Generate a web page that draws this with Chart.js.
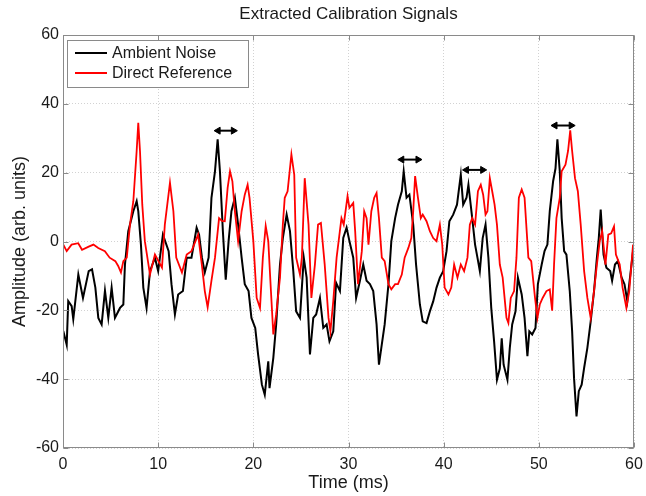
<!DOCTYPE html>
<html><head><meta charset="utf-8">
<script src="https://cdn.jsdelivr.net/npm/chart.js@4/dist/chart.umd.min.js"></script>
<style>html,body{margin:0;padding:0;background:#fff}canvas{display:block}</style>
</head><body>
<canvas id="c" width="646" height="496"></canvas>
<script>
const chartTitle = 'Extracted Calibration Signals';
const xTitle = 'Time (ms)';
const yTitle = 'Amplitude (arb. units)';
const seriesNames = ['Ambient Noise', 'Direct Reference'];
const xTicks = [0, 10, 20, 30, 40, 50, 60];
const yTicks = [-60, -40, -20, 0, 20, 40, 60];

const noiseTime = [0.03,0.39,0.55,0.91,1.08,1.61,2.1,2.7,3.05,3.4,3.71,4.06,4.41,4.76,5.11,5.46,5.99,6.34,6.51,6.86,7.39,7.74,7.91,8.19,8.44,8.78,9.14,9.66,10.0,10.5,11.1,11.4,11.76,12.1,12.6,13.0,13.5,14.04,14.3,14.6,14.9,15.3,15.6,15.97,16.25,16.49,16.8,17.1,17.4,17.7,18.06,18.4,18.77,19.1,19.5,19.8,20.2,20.5,20.9,21.2,21.57,21.7,22.1,22.4,22.8,23.1,23.5,23.85,24.2,24.5,24.9,25.3,25.6,25.95,26.3,26.6,27.0,27.35,27.7,28.0,28.4,28.7,29.1,29.45,29.8,30.1,30.5,30.8,31.2,31.55,31.9,32.25,32.6,32.95,33.2,33.5,33.8,34.2,34.5,34.9,35.2,35.6,35.8,36.1,36.4,36.8,37.1,37.5,37.8,38.2,38.55,38.9,39.25,39.6,39.95,40.3,40.6,41.0,41.4,41.8,42.05,42.4,42.6,43.0,43.3,43.55,43.8,44.1,44.4,44.7,45.0,45.3,45.6,45.9,46.1,46.3,46.7,46.95,47.2,47.55,47.8,48.2,48.5,48.8,49.0,49.3,49.65,49.9,50.3,50.6,50.9,51.15,51.5,51.75,51.95,52.2,52.4,52.66,52.9,53.25,53.5,53.7,53.96,54.2,54.5,54.76,55.1,55.45,55.8,56.1,56.3,56.5,56.8,57.1,57.5,57.7,58.0,58.3,58.7,59.0,59.3,59.5,59.9];
const noiseValues = [-26,-30,-17.3,-18.8,-22.6,-9.6,-16.4,-8.6,-8.1,-13.4,-22.2,-24.1,-14.3,-22.2,-13.4,-22.2,-19.3,-18.3,-6.7,3.0,8.8,11.7,8.8,-0.9,-13.4,-19.3,-8.6,-4.7,-8.6,2.0,-2.8,-12.4,-21.2,-15.4,-14.4,-4.7,-4.7,4.0,2.0,-4.7,-9.0,-4.7,12.7,20.4,29.7,20.4,3.0,-11.1,0.1,8.8,12.7,4.9,-4.7,-12.4,-14.4,-22.2,-25.1,-32.8,-41.6,-44.5,-34.8,-42.6,-33.8,-24.1,-6.7,1.0,7.8,3.0,-8.6,-20.3,-22.2,-4.7,-10.5,-32.8,-22.2,-21.2,-16.4,-25.1,-24.1,-29.0,-26.1,-12.0,-14.4,1.0,4.0,0.1,-4.7,-16.4,-11.4,-6.7,-11.4,-12.4,-14.4,-24.1,-35.8,-29.9,-24.1,-12.4,0.1,6.8,10.7,14.6,20.4,12.7,13.6,4.9,-6.7,-18.3,-23.2,-23.7,-20.3,-17.4,-13.4,-10.5,-8.6,-2.8,5.9,7.8,10.7,19.4,10.7,12.7,16.5,6.8,-0.9,-4.7,-8.6,1.0,4.9,-4.7,-19.3,-29.0,-40.2,-36.9,-28.1,-35.8,-40.2,-30.9,-24.1,-20.3,-10.5,-15.4,-22.2,-33.3,-26.1,-27.0,-25.1,-12.4,-6.7,-2.8,-0.9,8.8,17.5,21.2,29.7,20.4,6.8,-2.8,-3.8,-14.4,-26.1,-39.7,-50.8,-43.5,-41.6,-36.7,-30.9,-23.2,-14.4,-4.7,1.0,9.3,-3.8,-7.6,-8.6,-11.4,-6.7,-5.7,-10.5,-12.4,-17.3,-12.4,-2.8];

const refTime = [0.03,0.39,0.9,1.6,2.0,2.7,3.2,3.7,4.4,4.9,5.5,5.8,6.09,6.34,6.7,7.04,7.39,7.74,7.91,8.09,8.33,8.6,9.14,9.66,10.4,10.7,11.24,11.6,11.9,12.5,13.0,13.5,14.2,14.6,14.9,15.2,15.6,15.97,16.4,16.7,17.0,17.3,17.55,17.8,18.06,18.4,18.77,19.1,19.4,19.6,20.0,20.35,20.7,21.0,21.3,21.57,21.85,22.1,22.4,22.8,23.1,23.3,23.6,24.0,24.3,24.5,24.9,25.1,25.4,25.8,26.1,26.47,26.8,27.1,27.5,27.9,28.1,28.4,28.75,29.26,29.5,29.9,30.1,30.5,30.7,31.0,31.4,31.65,31.9,32.1,32.4,32.7,32.95,33.2,33.5,33.8,34.2,34.5,34.9,35.2,35.6,35.9,36.3,36.6,36.8,37.0,37.3,37.6,37.8,38.2,38.55,38.9,39.25,39.6,39.85,40.1,40.5,40.8,41.1,41.45,41.8,42.15,42.5,42.75,43.0,43.3,43.6,43.9,44.15,44.4,44.6,44.85,45.1,45.35,45.6,45.9,46.2,46.6,46.8,47.05,47.4,47.65,47.9,48.2,48.5,48.9,49.2,49.6,49.85,50.1,50.4,50.8,51.15,51.4,51.6,51.85,52.2,52.4,52.8,53.07,53.3,53.5,53.8,54.1,54.4,54.76,55.1,55.45,55.8,56.1,56.4,56.65,57.0,57.3,57.6,57.9,58.1,58.5,58.8,59.2,59.5,59.9];
const refValues = [-0.9,-2.8,-0.9,-0.5,-2.4,-1.5,-0.9,-1.9,-2.8,-4.7,-5.7,-7.1,-9.0,-5.7,-4.7,4.9,11.7,26.3,34.5,26.3,10.7,0.1,-9.6,-3.8,-7.6,4.9,17.1,8.8,-4.7,-9.0,-3.8,-2.8,2.0,-7.0,-14.4,-19.1,-11.4,-4.7,6.8,6.0,5.9,15.6,20.4,17.5,8.8,0.1,8.8,13.6,16.5,12.7,0.1,-16.4,-19.3,-4.7,4.5,0.1,-14.4,-27.0,-21.2,-10.5,4.9,12.7,14.6,25.3,19.4,-4.7,-9.6,-4.7,18.4,4.9,-16.4,-6.7,4.9,5.4,-6.7,-22.2,-26.1,-17.3,-4.7,6.8,4.9,13.2,9.8,11.2,3.0,-12.4,-2.8,8.8,6.8,-0.9,8.8,12.7,14.1,6.8,-4.7,-5.7,-12.4,-13.9,-12.4,-12.4,-9.6,-4.7,-1.8,1.0,8.8,19.0,12.7,6.8,7.8,5.9,3.0,1.0,0.1,4.9,-0.9,-13.4,-15.4,-13.4,-6.7,-10.5,-6.7,-8.6,-4.7,4.9,6.8,4.9,14.6,16.5,13.6,7.8,8.8,18.4,14.6,10.7,4.9,-6.7,-10.5,-22.2,-23.7,-16.4,-14.4,-4.7,12.7,15.1,12.7,-4.7,-5.7,-16.4,-22.2,-18.3,-16.4,-14.4,-13.9,-20.1,-6.7,6.8,12.7,20.4,22.3,26.3,32.3,26.3,18.4,14.6,4.9,-8.6,-16.4,-22.2,-14.4,-6.7,0.1,3.0,-6.7,2.0,2.4,4.4,-3.8,-6.7,-13.4,-19.3,-14.4,-0.9];

const arrowStart = [16.3, 35.6, 42.4, 51.7];
const arrowEnd = [17.9, 37.3, 44.1, 53.4];
const arrowLevel = [32.2, 23.8, 20.8, 33.7];

const FONT = "'Liberation Sans', Arial, Helvetica, sans-serif";

const datasets = [
  {label: seriesNames[0], data: noiseTime.map((t,i)=>({x:t,y:noiseValues[i]})), borderColor:'#000000', borderWidth:2, pointRadius:0, tension:0, order:2},
  {label: seriesNames[1], data: refTime.map((t,i)=>({x:t,y:refValues[i]})), borderColor:'#ff0000', borderWidth:1.8, pointRadius:0, tension:0, order:1}
];
arrowStart.forEach((s,i)=>{
  datasets.push({label:'arrow', isArrow:true, data:[{x:s,y:arrowLevel[i]},{x:arrowEnd[i],y:arrowLevel[i]}],
    borderColor:'#000', backgroundColor:'#000', borderWidth:2, pointStyle:'triangle', pointRadius:4, pointRotation:[270,90], pointBorderWidth:1, order:0});
});

const framePlugin = {
  id:'frame',
  afterDatasetsDraw(chart){
    const {ctx, chartArea:a, scales:{x,y}} = chart;
    ctx.save();
    ctx.strokeStyle='#8a8a8a'; ctx.lineWidth=1;
    const L=Math.round(a.left)+0.5, R=Math.round(a.right)-0.5, T=Math.round(a.top)+0.5, B=Math.round(a.bottom)-0.5;
    ctx.strokeRect(L,T,R-L,B-T);
    ctx.beginPath();
    xTicks.forEach(v=>{const p=Math.round(x.getPixelForValue(v))+0.5; ctx.moveTo(p,B); ctx.lineTo(p,B-5); ctx.moveTo(p,T); ctx.lineTo(p,T+5);});
    yTicks.forEach(v=>{const p=Math.round(y.getPixelForValue(v))+0.5; ctx.moveTo(L,p); ctx.lineTo(L+5,p); ctx.moveTo(R,p); ctx.lineTo(R-5,p);});
    ctx.stroke();
    const lx=67.5, ly=40.5, lw=181, lh=47;
    ctx.fillStyle='#fff'; ctx.fillRect(lx,ly,lw,lh);
    ctx.strokeStyle='#8a8a8a'; ctx.strokeRect(lx,ly,lw,lh);
    const rows=[53,73];
    [0,1].forEach(i=>{
      const ds=chart.data.datasets[i];
      ctx.strokeStyle=ds.borderColor; ctx.lineWidth=2;
      ctx.beginPath(); ctx.moveTo(75,rows[i]); ctx.lineTo(107,rows[i]); ctx.stroke();
      ctx.fillStyle='#1a1a1a'; ctx.font='16px '+FONT; ctx.textAlign='left'; ctx.textBaseline='middle';
      ctx.fillText(ds.label,112,rows[i]+1);
    });
    ctx.fillStyle='#1a1a1a';
    ctx.textAlign='center'; ctx.textBaseline='middle';
    ctx.font='17px '+FONT;
    ctx.fillText(chartTitle,(a.left+a.right)/2,14);
    ctx.font='18px '+FONT;
    ctx.fillText(xTitle,(a.left+a.right)/2,483);
    ctx.translate(20,(a.top+a.bottom)/2);
    ctx.rotate(-Math.PI/2);
    ctx.fillText(yTitle,0,0);
    ctx.restore();
  }
};

new Chart(document.getElementById('c'), {
  type:'line',
  data:{datasets},
  options:{
    responsive:false, animation:false, devicePixelRatio:1,
    layout:{padding:{top:35,right:12,left:0,bottom:0}},
    plugins:{legend:{display:false}, title:{display:false}, tooltip:{enabled:false}},
    scales:{
      x:{type:'linear', min:0, max:60,
        afterFit(s){s.height=48; s.paddingRight=0; s.paddingLeft=0;},
        afterBuildTicks(s){s.ticks=xTicks.map(v=>({value:v}));},
        ticks:{font:{family:FONT,size:16}, color:'#1a1a1a', padding:7, maxRotation:0, autoSkip:false},
        grid:{color:'#d2d2d2', lineWidth:1, drawTicks:false},
        border:{display:false, dash:[1,2]}},
      y:{type:'linear', min:-60, max:60,
        afterFit(s){s.width=63; s.paddingTop=0; s.paddingBottom=0;},
        afterBuildTicks(s){s.ticks=yTicks.map(v=>({value:v}));},
        ticks:{font:{family:FONT,size:16}, color:'#1a1a1a', padding:4, autoSkip:false},
        grid:{color:'#d2d2d2', lineWidth:1, drawTicks:false},
        border:{display:false, dash:[1,2]}}
    }
  },
  plugins:[framePlugin]
});
</script>
</body></html>
